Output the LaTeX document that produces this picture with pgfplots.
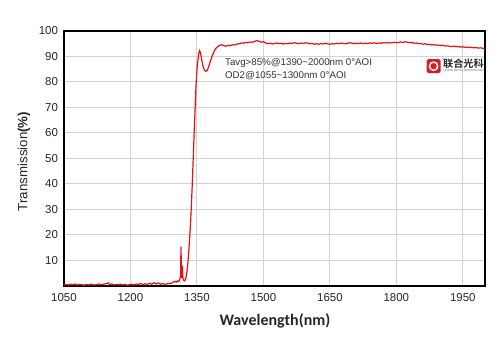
\documentclass[border=0pt]{standalone}
\usepackage{pgfplots}
\pgfplotsset{compat=1.18}
\usepackage{fontspec}
\setmainfont{Liberation Sans}
\newfontfamily\carlito{Carlito}
\newfontfamily\cjk{Noto Sans CJK SC}[BoldFont={Noto Sans CJK SC Bold}]
\definecolor{curvered}{RGB}{230,16,22}
\definecolor{gridgray}{RGB}{210,210,210}
\definecolor{logored}{RGB}{215,30,35}
\begin{document}
\begin{tikzpicture}
\useasboundingbox (-48pt,-50.25pt) rectangle (327pt,214.5pt);
\begin{axis}[
  at={(0,0)}, anchor=south west,
  scale only axis,
  width=315.75pt, height=191.25pt,
  xmin=1050, xmax=2000, ymin=0, ymax=100,
  xtick={1050,1200,1350,1500,1650,1800,1950},
  ytick={10,20,30,40,50,60,70,80,90,100},
  grid=major,
  major grid style={gridgray, line width=0.75pt},
  major tick length=0pt,
  axis line style={black, line width=0.8pt},
  tick label style={font=\fontsize{8.6}{10}\selectfont, text=black!85},
  /pgf/number format/assume math mode=true,
  /pgf/number format/1000 sep={},
  xticklabel style={yshift=-2pt},
  yticklabel style={xshift=-1pt},
  clip=false,
]
\addplot[curvered, line width=0.9pt] coordinates {
(1050,0.5) (1055,0.6) (1060,0.4) (1065,0.7) (1070,0.5) (1075,0.8) (1080,0.4) (1085,0.6)
(1090,0.5) (1095,0.3) (1100,0.6) (1105,0.4) (1110,0.7) (1115,0.5) (1120,0.4) (1125,0.6)
(1130,0.8) (1135,0.5) (1140,0.7) (1145,0.9) (1150,1.2) (1153,0.6) (1158,0.8) (1163,0.4)
(1168,0.6) (1173,0.5) (1178,0.7) (1183,0.4) (1188,0.6) (1193,0.3) (1198,0.5) (1203,0.7)
(1208,0.4) (1213,0.8) (1218,0.6) (1223,1.0) (1228,0.5) (1233,0.9) (1238,0.6) (1243,1.1)
(1248,0.7) (1253,1.3) (1258,0.8) (1263,1.2) (1268,0.7) (1273,1.0) (1278,0.6) (1283,0.9)
(1288,1.0) (1293,1.1) (1297,1.6) (1300,1.8) (1303,1.5) (1306,2.0) (1309,1.8) (1311,2.5)
(1313,4) (1314,15.4) (1315,6) (1316,3) (1317,8) (1318,4) (1319,2.5) (1321,2) (1323,2.2)
(1325,3) (1327,5) (1330,10) (1333,17) (1336,26) (1339,38) (1342,52) (1345,66) (1348,79)
(1351,87) (1354,91) (1356,92.3) (1358,91.5) (1361,88.5) (1364,86) (1367,84.6) (1370,84.2)
(1373,84.5) (1376,85.8) (1380,88) (1385,90.5) (1390,92.5) (1395,93.6) (1400,94.2)
(1405,94.6) (1410,94.3) (1415,94.0) (1420,94.4) (1425,94.2) (1430,94.6) (1435,94.5)
(1440,94.9) (1445,95.0) (1450,95.3) (1455,95.2) (1460,95.5) (1465,95.4) (1470,95.7)
(1475,95.6) (1480,95.9) (1485,96.2) (1490,96.0) (1495,95.6) (1500,95.8) (1505,95.3)
(1510,95.0) (1515,95.2) (1520,94.9) (1525,95.1) (1530,95.3) (1535,95.0) (1540,95.2)
(1545,94.9) (1550,95.1) (1555,95.0) (1560,95.3) (1565,95.1) (1570,95.4) (1575,95.2)
(1580,95.0) (1585,95.3) (1590,95.1) (1595,95.4) (1600,95.2) (1605,95.0) (1610,95.1)
(1615,94.8) (1620,95.0) (1625,94.8) (1630,95.1) (1635,94.9) (1640,95.2) (1645,95.0)
(1650,94.8) (1655,95.0) (1660,94.9) (1665,95.2) (1670,95.0) (1675,95.3) (1680,95.1)
(1685,95.0) (1690,95.2) (1695,95.4) (1700,95.2) (1705,95.0) (1710,95.2) (1715,95.1)
(1720,95.3) (1725,95.0) (1730,95.2) (1735,95.1) (1740,95.3) (1745,95.2) (1750,95.4)
(1755,95.1) (1760,95.3) (1765,95.2) (1770,95.4) (1775,95.3) (1780,95.5) (1785,95.3)
(1790,95.4) (1795,95.6) (1800,95.4) (1805,95.5) (1810,95.7) (1815,95.5) (1820,95.8)
(1825,95.6) (1830,95.4) (1835,95.5) (1840,95.2) (1845,95.3) (1850,95.0) (1855,95.1)
(1860,94.8) (1865,95.0) (1870,94.7) (1875,94.8) (1880,94.5) (1885,94.7) (1890,94.4)
(1895,94.5) (1900,94.3) (1905,94.4) (1910,94.1) (1915,94.2) (1920,94.0) (1925,93.9)
(1930,94.1) (1935,93.8) (1940,93.9) (1945,93.7) (1950,93.8) (1955,93.6) (1960,93.7)
(1965,93.5) (1970,93.6) (1975,93.4) (1980,93.5) (1985,93.3) (1990,93.4) (1995,93.2)
(2000,93.3)
};
% annotations
\node[anchor=west, inner sep=0pt, font=\fontsize{7.3}{8.5}\selectfont, text=black!80]
  at (axis cs:1413,87.5) {Tavg>85\%@1390\textasciitilde2000nm 0°AOI};
\node[anchor=west, inner sep=0pt, font=\fontsize{7.3}{8.5}\selectfont, text=black!80]
  at (axis cs:1413,82.4) {OD2@1055\textasciitilde1300nm 0°AOI};
% logo
\node[fill=logored, rounded corners=1.2pt, minimum size=10.5pt, inner sep=0pt] (logo)
  at (axis cs:1884,86.2) {};
\draw[white, line width=1.1pt] (logo.center) circle (3.1pt);
\fill[white] (logo.center) ++(0,-0.6pt) circle (1.3pt);
\node[anchor=west, inner sep=0pt, font=\cjk\bfseries\fontsize{7.6}{8}\selectfont, text=black!85]
  at ([xshift=1.5pt,yshift=1.6pt]logo.east) {联合光科};
\node[anchor=west, inner sep=0pt, font=\fontsize{2.2}{2.5}\selectfont, text=black!60]
  at ([xshift=1.8pt,yshift=-3.6pt]logo.east) {UNION OPTIC TECHNOLOGY};
% axis labels
\node[rotate=90, font=\fontsize{10}{12}\selectfont, text=black!85]
  at ([xshift=-30pt]axis description cs:0,0.488) {Transmission\textbf{(\%)}};
\node[font=\carlito\bfseries\fontsize{12}{14}\selectfont, text=black!85]
  at ([yshift=-26.25pt]axis description cs:0.501,0) {Wavelength(nm)};
\end{axis}
\end{tikzpicture}
\end{document}
